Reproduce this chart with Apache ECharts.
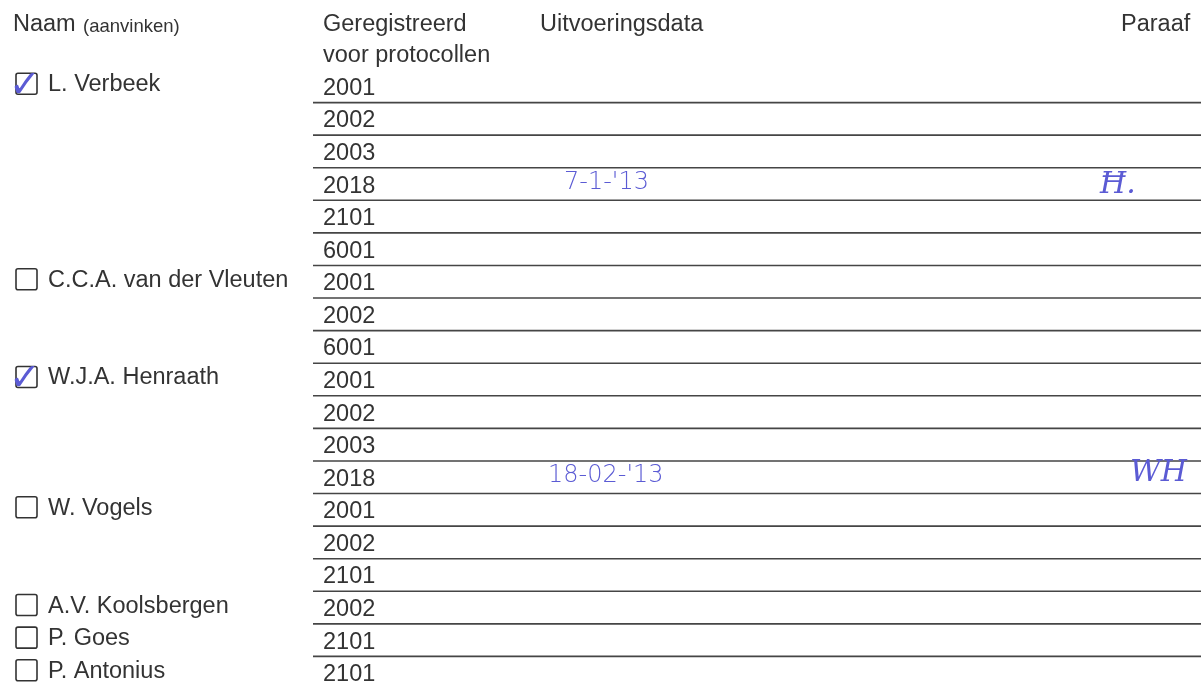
<!DOCTYPE html>
<html><head><meta charset="utf-8">
<style>html,body{margin:0;padding:0;background:#fff}#c{width:1201px;height:689px}</style>
<script src="https://cdn.jsdelivr.net/npm/echarts@6/dist/echarts.min.js"></script>
</head><body><div id="c"></div><script>
// ---- data ----
const protocols = ['2001','2002','2003','2018','2101','6001','2001','2002','6001','2001','2002','2003','2018','2001','2002','2101','2002','2101','2101'];
const names = ['L. Verbeek','C.C.A. van der Vleuten','W.J.A. Henraath','W. Vogels','A.V. Koolsbergen','P. Goes','P. Antonius'];
const nameRows = [0, 6, 9, 13, 16, 17, 18];
const nameChecked = [true, false, true, false, false, false, false];
const dateRows = [3, 12];
const dateTexts = ["7-1-'13", "18-02-'13"];
const paraafRows = [3, 12];
const paraafTexts = ['Ħ.', 'ԜH'];
const headerMain = ['Naam', 'Geregistreerd', 'Uitvoeringsdata', 'Paraaf'];
const headerSub = ['(aanvinken)', 'voor protocollen'];

// ---- layout / style ----
const FONT = "'Liberation Sans', Arial, sans-serif";
const TXT = '#333333';
const INK = '#5b5bd4';
const COL = { box: 15, name: 48, proto: 323, ruleStart: 313, ruleEnd: 1201, date: 564, paraaf: 1100 };
const PARAAF_DX = [0, 30];
const PARAAF_DY = [1, -4];
const rowIdx = protocols.map((_, i) => i);

function textEl(x, y, text, size, color, family, align) {
  return { type: 'text', x: x, y: y, style: {
    text: text, fill: color, font: size + 'px ' + family,
    textAlign: align || 'left', textVerticalAlign: 'middle', align: align || 'left', verticalAlign: 'middle'
  } };
}

const chart = echarts.init(document.getElementById('c'), null, { renderer: 'canvas' });
chart.setOption({
  backgroundColor: '#ffffff',
  animation: false,
  grid: { left: 0, top: 70, width: 1201, height: 623, containLabel: false },
  xAxis: { type: 'value', min: 0, max: 1201, show: false },
  yAxis: { type: 'category', data: rowIdx, inverse: true, show: false, boundaryGap: true },
  graphic: [
    textEl(13, 25, headerMain[0], 23.5, TXT, FONT),
    textEl(83, 27, headerSub[0], 18.5, TXT, FONT),
    textEl(323, 25, headerMain[1], 23.5, TXT, FONT),
    textEl(323, 56, headerSub[1], 23.5, TXT, FONT),
    textEl(540, 25, headerMain[2], 23.5, TXT, FONT),
    textEl(1121, 25, headerMain[3], 23.5, TXT, FONT)
  ].map(g => Object.assign(g, { z: 10 })),
  series: [
    { // horizontal rules below each row except the last
      type: 'custom', coordinateSystem: 'cartesian2d',
      data: rowIdx.slice(0, -1).map(i => [0, i]),
      encode: { x: 0, y: 1 },
      renderItem: (params, api) => {
        const r = api.value(1);
        const a = api.coord([COL.ruleStart, r]);
        const b = api.coord([COL.ruleEnd, r]);
        const h = api.size([0, 1])[1];
        const y = a[1] + h / 2;
        return { type: 'line', shape: { x1: a[0], y1: y, x2: b[0], y2: y },
          style: { stroke: '#454545', lineWidth: 1.6 } };
      }
    },
    { // protocol numbers
      type: 'custom', coordinateSystem: 'cartesian2d',
      data: protocols.map((p, i) => [0, i, p]),
      encode: { x: 0, y: 1 },
      renderItem: (params, api) => {
        const c = api.coord([COL.proto, api.value(1)]);
        return textEl(c[0], c[1] + 2, protocols[params.dataIndex], 23.5, TXT, FONT);
      }
    },
    { // names with checkboxes
      type: 'custom', coordinateSystem: 'cartesian2d',
      data: names.map((n, i) => [0, nameRows[i]]),
      encode: { x: 0, y: 1 },
      renderItem: (params, api) => {
        const i = params.dataIndex;
        const c = api.coord([COL.name, api.value(1)]);
        const bx = api.coord([COL.box, api.value(1)]);
        const children = [
          { type: 'rect', shape: { x: bx[0] + 1, y: c[1] - 13, width: 21, height: 21, r: 2 },
            style: { fill: 'none', stroke: '#333', lineWidth: 1.6 } },
          textEl(c[0], c[1] - 1.5, names[i], 23.5, TXT, FONT)
        ];
        if (nameChecked[i]) {
          children.push(textEl(bx[0] + 10, c[1] + 1, '✓', 38, INK, "'DejaVu Sans'", 'center'));
        }
        return { type: 'group', children: children };
      }
    },
    { // handwritten dates
      type: 'custom', coordinateSystem: 'cartesian2d',
      data: dateRows.map(r => [0, r]),
      encode: { x: 0, y: 1 },
      renderItem: (params, api) => {
        const c = api.coord([COL.date - params.dataIndex * 16, api.value(1)]);
        const el = textEl(c[0], c[1] - 1, dateTexts[params.dataIndex], 24, INK, "'DejaVu Sans'");
        el.style.font = '200 24px DejaVu Sans';
        return el;
      }
    },
    { // paraaf (initials)
      type: 'custom', coordinateSystem: 'cartesian2d',
      data: paraafRows.map(r => [0, r]),
      encode: { x: 0, y: 1 },
      renderItem: (params, api) => {
        const i = params.dataIndex;
        const c = api.coord([COL.paraaf + PARAAF_DX[i], api.value(1)]);
        const el = textEl(c[0], c[1] + PARAAF_DY[i], paraafTexts[i], 30, INK, "'DejaVu Serif'");
        el.style.font = 'italic 30px DejaVu Serif';
        return el;
      }
    }
  ]
});
</script></body></html>
